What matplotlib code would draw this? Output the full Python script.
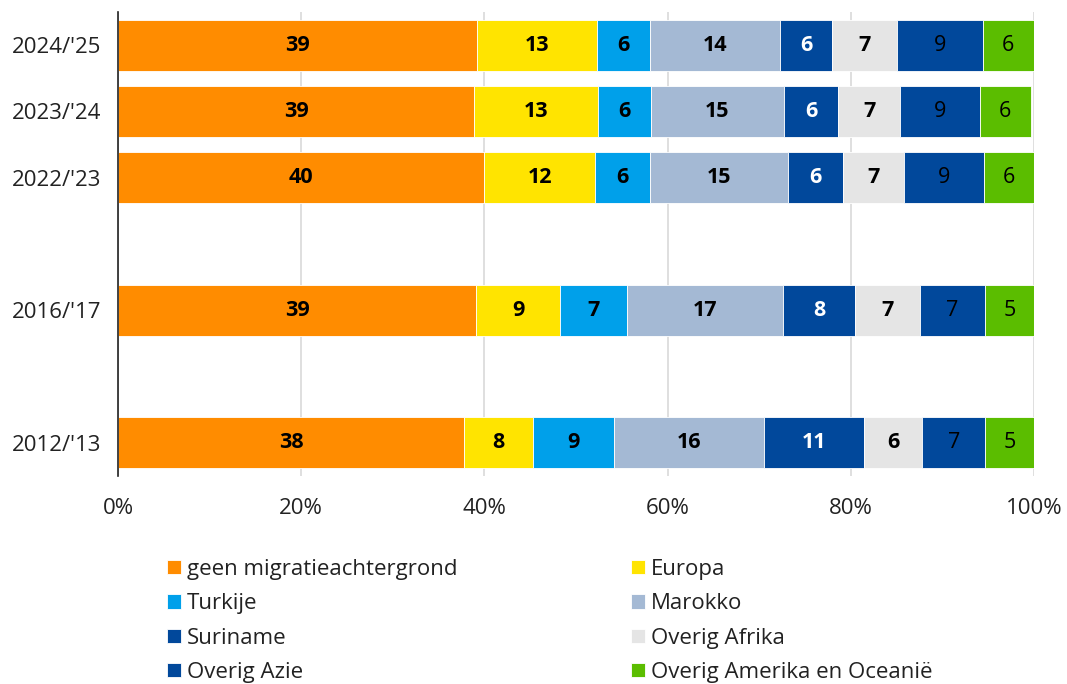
import matplotlib
matplotlib.use("Agg")
import matplotlib.pyplot as plt
import numpy as np

plt.rcParams['font.family'] = ['Open Sans', 'DejaVu Sans']

categories = ["2024/'25", "2023/'24", "2022/'23", "2016/'17", "2012/'13"]
positions = [0, 1, 2, 4, 6]

series_names = ["geen migratieachtergrond", "Europa", "Turkije", "Marokko",
                "Suriname", "Overig Afrika", "Overig Azie", "Overig Amerika en Oceanië"]

geen = [39.2, 38.9, 40.0, 39.1, 37.8]
europa = [13.1, 13.45, 12.1, 9.2, 7.5]
turkije = [5.8, 5.8, 6.0, 7.3, 8.9]
marokko = [14.2, 14.55, 15.0, 17.0, 16.3]
suriname = [5.6, 5.9, 6.0, 7.9, 10.9]
overig_afrika = [7.1, 6.8, 6.7, 7.0, 6.4]
overig_azie = [9.4, 8.7, 8.7, 7.2, 6.9]
overig_amerika = [5.6, 5.52, 5.5, 5.3, 5.3]

series = [geen, europa, turkije, marokko, suriname, overig_afrika, overig_azie, overig_amerika]
colors = ["#FF8C00", "#FFE400", "#00A0EA", "#A4B9D4", "#01489B", "#E5E5E5", "#01489B", "#5BBD00"]
label_colors = ["black", "black", "black", "black", "white", "black", "black", "black"]
label_weights = ["bold", "bold", "bold", "bold", "bold", "bold", "normal", "normal"]

fig = plt.figure(figsize=(10.67, 6.84), dpi=100)
ax = fig.add_axes([118/1067, 1-476/684, (1034-118)/1067, (476-12)/684])

left = np.zeros(len(categories))
handles = []
for vals, col, lc, lw, name in zip(series, colors, label_colors, label_weights, series_names):
    vals = np.array(vals)
    bars = ax.barh(positions, vals, left=left, height=0.77, color=col, label=name,
                   edgecolor='white', linewidth=0.6, zorder=3)
    handles.append(bars)
    ax.bar_label(bars, labels=[f"{int(v + 0.5)}" for v in vals], label_type='center',
                 color=lc, fontsize=15.5, fontweight=lw)
    left += vals

ax.set_xlim(0, 100)
ax.set_ylim(6.5, -0.5)
ax.set_yticks(positions)
ax.set_yticklabels(categories)
ax.set_xticks([0, 20, 40, 60, 80, 100])
ax.set_xticklabels(["0%", "20%", "40%", "60%", "80%", "100%"])
ax.tick_params(axis='both', length=0, labelsize=16, colors='#222222')
ax.tick_params(axis='x', pad=16)
ax.tick_params(axis='y', pad=12)
ax.grid(axis='x', color='#D9D9D9', linewidth=1.2, zorder=0)
ax.set_axisbelow(True)
for s in ['top', 'right', 'bottom']:
    ax.spines[s].set_visible(False)
ax.spines['left'].set_color('#222222')
ax.spines['left'].set_linewidth(1.2)
ax.spines['left'].set_zorder(5)

order = [0, 2, 4, 6, 1, 3, 5, 7]
leg = fig.legend([handles[i] for i in order], [series_names[i] for i in order],
                 ncol=2, loc='upper left', bbox_to_anchor=(167/1067, 1-559/684),
                 frameon=False, fontsize=16, handlelength=0.63, handleheight=0.63,
                 handletextpad=0.27, labelspacing=0.6, columnspacing=7.8,
                 borderaxespad=0, borderpad=0)
for t in leg.get_texts():
    t.set_color('#222222')

fig.savefig("out.png", dpi=100)
